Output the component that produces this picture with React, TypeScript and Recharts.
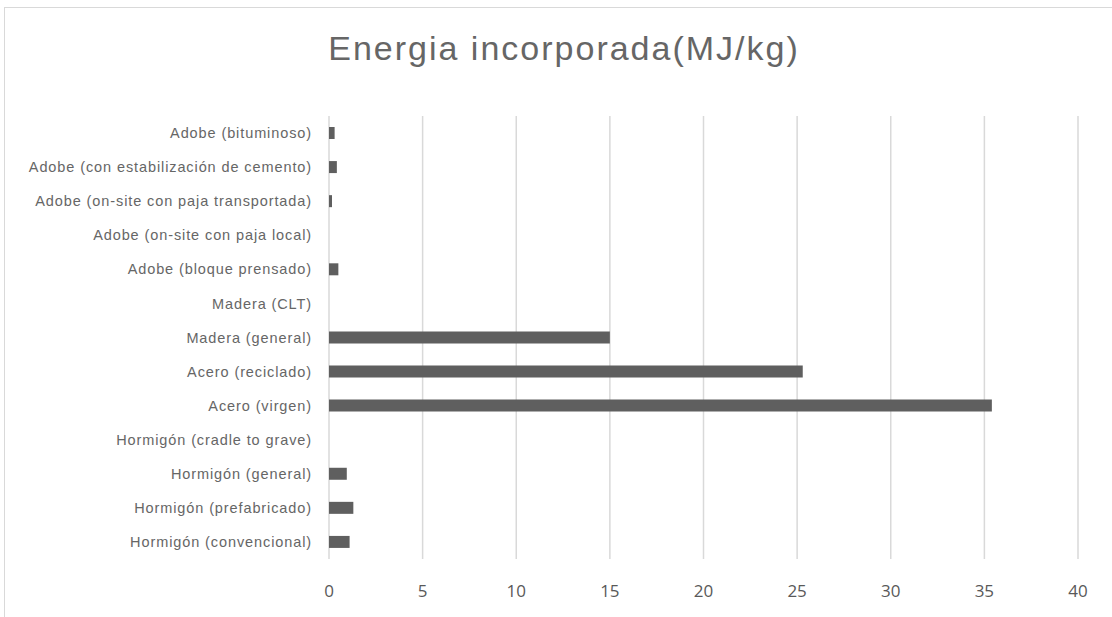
import React from 'react';
import { BarChart, Bar, XAxis, YAxis, CartesianGrid } from 'recharts';

const CATEGORIES = [
  'Adobe (bituminoso)',
  'Adobe (con estabilización de cemento)',
  'Adobe (on-site con paja transportada)',
  'Adobe (on-site con paja local)',
  'Adobe (bloque prensado)',
  'Madera (CLT)',
  'Madera (general)',
  'Acero (reciclado)',
  'Acero (virgen)',
  'Hormigón (cradle to grave)',
  'Hormigón (general)',
  'Hormigón (prefabricado)',
  'Hormigón (convencional)',
];
const VALUES = [0.3, 0.42, 0.16, 0, 0.5, 0, 15.0, 25.3, 35.4, 0, 0.95, 1.3, 1.1];
const X_TICKS = [0, 5, 10, 15, 20, 25, 30, 35, 40];

const data = CATEGORIES.map((name, i) => ({ name, val: VALUES[i] }));

const TEXT = '#595959';

export default function App() {
  return (
    <div style={{ position: 'absolute', left: 0, top: 0, width: 1112, height: 617, background: '#fff', overflow: 'hidden' }}>
      <div
        style={{
          position: 'absolute', left: 4, top: 7, width: 1120, height: 630,
          border: '1px solid #d9d9d9', boxSizing: 'border-box',
        }}
      />
      <div
        style={{
          position: 'absolute', left: 0, top: 28, width: 1128, textAlign: 'center', lineHeight: '40px',
          fontFamily: '"Liberation Sans", Arial, sans-serif', fontSize: 34, letterSpacing: 2, color: '#666',
        }}
      >
        Energia incorporada(MJ/kg)
      </div>
      <div style={{ position: 'absolute', left: 0, top: 0 }}>
        <BarChart
          layout="vertical"
          width={1112}
          height={617}
          data={data}
          margin={{ top: 116, right: 34, bottom: 28, left: 4 }}
        >
          <CartesianGrid horizontal={false} stroke="#d9d9d9" strokeWidth={1.5} />
          <XAxis
            type="number"
            domain={[0, 40]}
            ticks={X_TICKS}
            axisLine={false}
            tickLine={false}
            tickSize={0}
            tickMargin={26}
            tick={{ fontSize: 17, fill: TEXT, fontFamily: '"Open Sans", sans-serif' }}
          />
          <YAxis
            type="category"
            dataKey="name"
            width={325}
            axisLine={false}
            tickLine={false}
            tickSize={0}
            tickMargin={17}
            interval={0}
            tick={{ fontSize: 14.5, fill: '#666', fontFamily: '"Liberation Sans", Arial, sans-serif', letterSpacing: 0.9 }}
          />
          <Bar dataKey="val" fill="#5f5f5f" barSize={12} isAnimationActive={false} />
        </BarChart>
      </div>
    </div>
  );
}
